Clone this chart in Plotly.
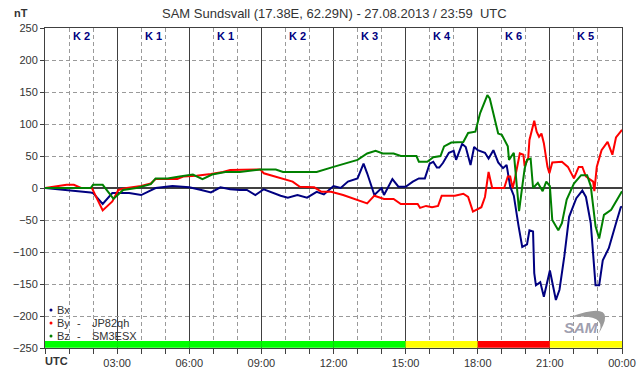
import plotly.graph_objects as go

# ---------------- data (hours UTC, nT) ----------------
bx_hours = [0, 0.9, 1.2, 1.9, 2.0, 2.4, 2.8, 3.1, 3.5, 4.0, 4.3, 4.6, 5.3, 6.0, 6.5, 6.9, 7.3, 7.7,
            8.1, 8.4, 8.75, 9.1, 9.8, 10.1, 10.5, 10.9, 11.3, 11.6, 12.0, 12.3, 12.6, 13.0, 13.25,
            13.4, 13.7, 14.0, 14.1, 14.45, 14.7, 15.0, 15.3, 15.55, 15.8, 16.0, 16.15, 16.3, 16.4,
            16.55, 16.8, 17.0, 17.1, 17.35, 17.5, 17.7, 17.85, 18.0, 18.3, 18.45, 18.65, 18.85,
            19.05, 19.2, 19.35, 19.5, 19.7, 19.85, 20.05, 20.15, 20.3, 20.35, 20.42, 20.6, 20.75,
            21.0, 21.25, 21.4, 21.6, 21.8, 22.1, 22.35, 22.5, 22.7, 22.9, 23.05, 23.2, 23.45,
            23.75, 23.95, 24.0]
bx_values = [0, -3, -5, -7, -8, -25, -8, -8, -8, -11, -5, 0, 3, 1, -3, -7, 1, -2,
             -3, -3, -11, -2, -12, -15, -11, -15, -6, -10, 3, 0, 10, 15, 38,
             23, -11, 0, -11, 14, 2, 2, 10, 15, 15, 38, 41, 32, 32,
             39, 55, 58, 44, 69, 64, 36, 64, 59, 55, 46, 59, 40,
             31, 36, 2, -12, -60, -92, -88, -66, -68, -133, -152, -147, -170,
             -129, -175, -159, -107, -45, -16, -4, -14, -55, -152, -152, -113, -94,
             -55, -30, -29]

by_hours = [0, 0.9, 1.2, 1.5, 1.95, 2.4, 2.8, 3.05, 3.4, 4.0, 4.4, 4.6, 5.1, 5.5, 5.75, 6.3, 6.9,
            7.4, 7.7, 8.1, 8.5, 8.95, 9.1, 9.7, 10.3, 10.6, 11.2, 11.5, 11.9, 12.4, 12.8, 13.4,
            13.7, 14.1, 14.5, 14.8, 15.5, 15.6, 15.85, 16.1, 16.35, 16.5, 17.05, 17.4, 17.6, 17.8,
            18.15, 18.3, 18.45, 18.6, 19.1, 19.25, 19.35, 19.45, 19.52, 19.62, 19.75, 19.9, 19.95,
            20.1, 20.15, 20.35, 20.45, 20.55, 20.65, 20.75, 20.9, 20.98, 21.1, 21.5, 21.75, 22.0,
            22.2, 22.35, 22.5, 22.8, 22.85, 22.95, 23.15, 23.4, 23.6, 23.75, 24.0]
by_values = [0, 5, 5, 0, 0, -35, -21, -3, 0, 3, 7, 14, 14, 14, 18, 19, 22,
             25, 28, 28, 29, 29, 23, 17, 10, 2, 1, -6, -6, -11, -16, -24,
             -12, -17, -17, -25, -25, -31, -28, -30, -28, -12, -12, -9, -14, -37,
             -30, -14, 25, 0, 0, 18, 18, 0, 10, 28, 54, 52, 34,
             47, 75, 105, 88, 80, 85, 70, 33, 23, 40, 41, 33, 15,
             33, 33, 18, 10, -5, 33, 59, 72, 52, 79, 91]

bz_hours = [0, 1.9, 2.0, 2.4, 2.85, 3.25, 3.8, 4.4, 4.6, 5.1, 5.6, 6.15, 6.55, 6.95, 7.5, 8.1,
            8.96, 9.6, 9.9, 11.3, 12.0, 13.0, 13.4, 13.75, 14.05, 14.5, 14.8, 15.45, 15.55, 15.9,
            16.15, 16.45, 16.6, 16.9, 17.4, 17.6, 17.9, 18.1, 18.4, 18.5, 18.85, 19.0, 19.25,
            19.3, 19.5, 19.6, 19.72, 19.85, 19.95, 20.05, 20.2, 20.3, 20.5, 20.7, 20.85, 21.0,
            21.1, 21.35, 21.5, 21.7, 22.0, 22.3, 22.55, 22.7, 22.9, 23.05, 23.25, 23.55, 24.0]
bz_values = [0, 0, 5, 5, -17, -3, 0, 6, 15, 15, 18, 21, 14, 21, 25, 25,
             29, 29, 25, 25, 33, 44, 54, 58, 54, 54, 50, 50, 41, 41,
             48, 50, 65, 71, 72, 86, 88, 117, 145, 140, 85, 83, 65,
             44, 55, 18, -36, 2, 30, 44, 46, 0, 8, -5, 10, 3,
             -50, -66, -55, -18, 7, 20, 20, 3, -60, -79, -42, -34, -5]

k_block_start = [0, 3, 6, 9, 12, 15, 18, 21]
k_index = [2, 1, 1, 2, 3, 4, 6, 5]

hour_labels = ["03:00", "06:00", "09:00", "12:00", "15:00", "18:00", "21:00", "00:00"]
hour_label_pos = [3, 6, 9, 12, 15, 18, 21, 24]

series = [
    ("Bx", "", bx_hours, bx_values, "#000080"),
    ("By", "JP82qh", by_hours, by_values, "#ff0000"),
    ("Bz", "SM3ESX", bz_hours, bz_values, "#008000"),
]

# ---------------- figure ----------------
W, H = 642, 376
ML, MR, MT, MB = 45, 20, 28, 28
PW, PH = W - ML - MR, H - MT - MB
FONT = "Liberation Sans, Arial"


def px_x(px):
    return (px - ML) / PW


def px_y(py):
    return (H - MB - py) / PH


def note(px, py, text, size=11, color="#333333", xanchor="center"):
    return dict(x=px_x(px), y=px_y(py), xref="paper", yref="paper", text=text,
                xanchor=xanchor, yanchor="middle", showarrow=False,
                font=dict(size=size, color=color, family=FONT))


fig = go.Figure()
for name, station, hrs, vals, col in series:
    fig.add_trace(go.Scatter(x=hrs, y=vals, mode="lines", name=name,
                             line=dict(color=col, width=2), showlegend=False))


def k_color(k):
    if k >= 6:
        return "#ff0000"
    if k >= 4:
        return "#ffff00"
    return "#00ff00"


shapes = []
annotations = []
for start, k in zip(k_block_start, k_index):
    shapes.append(dict(type="rect", xref="x", yref="y", x0=start, x1=start + 3,
                       y0=-249.5, y1=-239, fillcolor=k_color(k), line=dict(width=0),
                       layer="above"))
    annotations.append(dict(x=start + 1.5, y=237, xref="x", yref="y", text="<b>K %d</b>" % k,
                            xanchor="center", yanchor="middle",
                            showarrow=False, font=dict(size=11, color="#000080", family=FONT)))

# legend (bottom-left)
leg_rows = [310, 323, 336]
for (name, station, hrs, vals, col), py in zip(series, leg_rows):
    shapes.append(dict(type="circle", xref="paper", yref="paper",
                       x0=px_x(49.5), x1=px_x(52.5), y0=px_y(py + 1.5), y1=px_y(py - 1.5),
                       fillcolor=col, line=dict(width=0), layer="above"))
    annotations.append(note(55, py, name, xanchor="left"))
    if station:
        annotations.append(note(79, py, "-"))
        annotations.append(note(90, py, station, xanchor="left"))

# axis extra labels and title
annotations.append(note(56, 361, "<b>UTC</b>"))
annotations.append(note(21, 13, "<b>nT</b>"))
annotations.append(note(334, 13, "SAM Sundsvall (17.38E, 62.29N) - 27.08.2013 / 23:59  UTC", size=13))
# SAM logo
annotations.append(note(581, 327, "<i><b>SAM</b></i>", size=15, color="#a0a0b0"))


def P(px, py):
    return "%.4f,%.4f" % (px_x(px), px_y(py))


swoosh = ("M " + P(570, 317) + " Q " + P(622, 298) + " " + P(597, 336) +
          " Q " + P(611, 313) + " " + P(570, 317) + " Z")
shapes.append(dict(type="path", xref="paper", yref="paper", path=swoosh,
                   fillcolor="#9a9a9a", line=dict(width=0), layer="above"))

alias = {str(v): t for v, t in zip(hour_label_pos, hour_labels)}
alias["0"] = " "

fig.update_layout(
    width=W, height=H,
    margin=dict(l=ML, r=MR, t=MT, b=MB, pad=0, autoexpand=False),
    plot_bgcolor="white", paper_bgcolor="white",
    font=dict(family=FONT, size=11, color="#333333"),
    shapes=shapes, annotations=annotations, showlegend=False,
    xaxis=dict(range=[0, 24], tickmode="linear", tick0=0, dtick=3, labelalias=alias,
               automargin=False,
               showline=True, mirror=True, linecolor="#404040", linewidth=1,
               showgrid=True, gridcolor="#404040", gridwidth=1, zeroline=False,
               ticks="outside", ticklen=5, tickcolor="#404040",
               tickfont=dict(size=11, color="#333333"),
               minor=dict(tickmode="linear", tick0=0, dtick=1, showgrid=True, gridcolor="#9a9a9a",
                          griddash="4px,3px", gridwidth=1, ticks="outside", ticklen=5,
                          tickcolor="#404040")),
    yaxis=dict(range=[-250, 250], tickmode="linear", tick0=-250, dtick=50,
               automargin=False,
               showline=True, mirror=True, linecolor="#404040", linewidth=1,
               showgrid=True, gridcolor="#9a9a9a", griddash="4px,3px", gridwidth=1,
               zeroline=True, zerolinecolor="#404040", zerolinewidth=1.5,
               ticks="outside", ticklen=4, tickcolor="#404040",
               tickfont=dict(size=11, color="#333333")),
)

fig.write_html("out.html", config={"displayModeBar": False},
               post_script="document.body.style.margin='0';")
